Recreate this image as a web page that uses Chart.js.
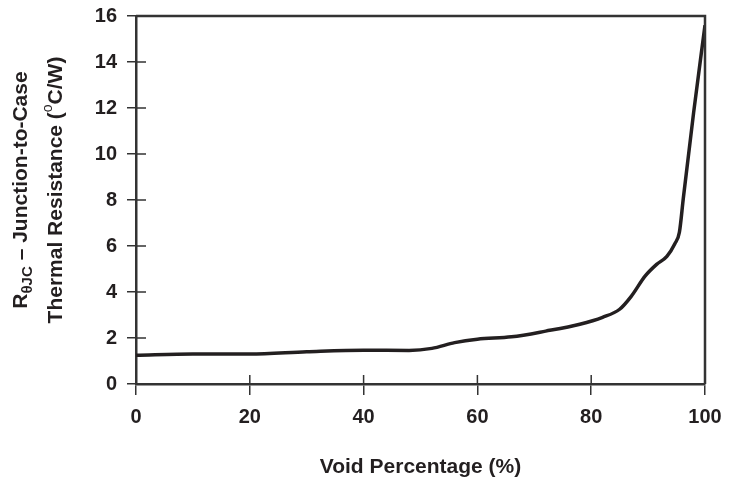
<!DOCTYPE html>
<html lang="en">
<head>
  <meta charset="UTF-8" />
  <script src="https://cdn.jsdelivr.net/npm/chart.js"></script>
  <title>Void Percentage vs Thermal Resistance</title>
  <style>
    html, body { margin: 0; padding: 0; background: #fff; }
    #wrap { width: 732px; height: 482px; }
  </style>
</head>
<body>
  <div id="wrap"><canvas id="voidChart"></canvas></div>
  <script>
    // curve: void % -> R(theta)JC in °C/W
    const voidPct = [0, 10, 20, 30, 40, 48, 52, 56, 60, 66, 72, 78, 82, 85, 87, 89.5, 91.5, 93.3, 94.7, 95.5, 96.2, 98, 100];
    const thetaJC = [1.25, 1.3, 1.3, 1.4, 1.47, 1.46, 1.55, 1.8, 1.95, 2.05, 2.3, 2.6, 2.9, 3.25, 3.8, 4.7, 5.2, 5.55, 6.1, 6.6, 8.1, 11.8, 15.6];
    const xTicks = [0, 20, 40, 60, 80, 100];
    const yTicks = [0, 2, 4, 6, 8, 10, 12, 14, 16];

    const ink = '#231f20';
    const axisInk = '#333333';
    const fontFamily = '"Liberation Sans", Arial, sans-serif';

    // top/right frame, inward tick halves and the y axis title with sub/superscripts
    const framePlugin = {
      id: 'frame',
      afterDraw(chart) {
        const { ctx, chartArea: a, scales } = chart;
        ctx.save();
        ctx.strokeStyle = axisInk;
        ctx.lineWidth = 2.5;
        ctx.beginPath();
        ctx.moveTo(a.left, a.top);
        ctx.lineTo(a.right, a.top);
        ctx.lineTo(a.right, a.bottom);
        ctx.stroke();

        ctx.lineWidth = 1.5;
        ctx.beginPath();
        xTicks.slice(1, -1).forEach(v => {
          const px = scales.x.getPixelForValue(v);
          ctx.moveTo(px, a.bottom);
          ctx.lineTo(px, a.bottom - 9);
        });
        yTicks.slice(1, -1).forEach(v => {
          const py = scales.y.getPixelForValue(v);
          ctx.moveTo(a.left, py);
          ctx.lineTo(a.left + 10, py);
        });
        ctx.stroke();

        // y title, two rotated lines
        const mid = 190;
        ctx.fillStyle = ink;
        ctx.textBaseline = 'alphabetic';
        ctx.textAlign = 'left';
        const big = 'bold 21px ' + fontFamily;
        const small = 'bold 15px ' + fontFamily;

        const drawLine = (parts, bx) => {
          ctx.save();
          ctx.translate(bx, mid);
          ctx.rotate(-Math.PI / 2);
          let w = 0;
          parts.forEach(p => { ctx.font = p.f; w += ctx.measureText(p.t).width; });
          let x = -w / 2;
          parts.forEach(p => {
            ctx.font = p.f;
            ctx.fillText(p.t, x, p.dy);
            x += ctx.measureText(p.t).width;
          });
          ctx.restore();
        };

        drawLine([
          { t: 'R', f: big, dy: 0 },
          { t: 'θJC', f: small, dy: 5 },
          { t: ' – Junction-to-Case', f: big, dy: 0 }
        ], 27);
        drawLine([
          { t: 'Thermal Resistance (', f: big, dy: 0 },
          { t: 'o', f: '14px ' + fontFamily, dy: -10 },
          { t: 'C/W)', f: big, dy: 0 }
        ], 62);
        ctx.restore();
      }
    };

    const ctx = document.getElementById('voidChart').getContext('2d');
    new Chart(ctx, {
      type: 'line',
      data: {
        datasets: [{
          label: 'RθJC',
          data: voidPct.map((v, i) => ({ x: v, y: thetaJC[i] })),
          borderColor: ink,
          borderWidth: 3.5,
          pointRadius: 0,
          fill: false,
          cubicInterpolationMode: 'monotone'
        }]
      },
      options: {
        responsive: true,
        maintainAspectRatio: false,
        animation: false,
        layout: { padding: { top: 16, right: 27, left: 0, bottom: 0 } },
        plugins: {
          legend: { display: false },
          tooltip: { enabled: false }
        },
        scales: {
          x: {
            type: 'linear',
            min: 0,
            max: 100,
            afterBuildTicks: s => { s.ticks = xTicks.map(v => ({ value: v })); },
            afterFit: s => { s.height = 98; s.paddingLeft = 0; s.paddingRight = 0; },
            grid: { drawOnChartArea: false, drawTicks: true, tickLength: 11, color: axisInk, lineWidth: 1.5 },
            border: { display: true, color: axisInk, width: 2.5 },
            ticks: {
              color: ink,
              padding: 10,
              font: { family: fontFamily, size: 20, weight: 'bold' }
            },
            title: {
              display: true,
              text: 'Void Percentage (%)',
              color: ink,
              padding: { top: 0, bottom: 2 },
              font: { family: fontFamily, size: 21, weight: 'bold' }
            }
          },
          y: {
            type: 'linear',
            min: 0,
            max: 16,
            afterBuildTicks: s => { s.ticks = yTicks.map(v => ({ value: v })); },
            afterFit: s => { s.width = 136; s.paddingTop = 0; s.paddingBottom = 0; },
            grid: { drawOnChartArea: false, drawTicks: true, tickLength: 9, color: axisInk, lineWidth: 1.5 },
            border: { display: true, color: axisInk, width: 2.5 },
            ticks: {
              color: ink,
              padding: 10,
              font: { family: fontFamily, size: 20, weight: 'bold' }
            },
            title: { display: false }
          }
        }
      },
      plugins: [framePlugin]
    });
  </script>
</body>
</html>
